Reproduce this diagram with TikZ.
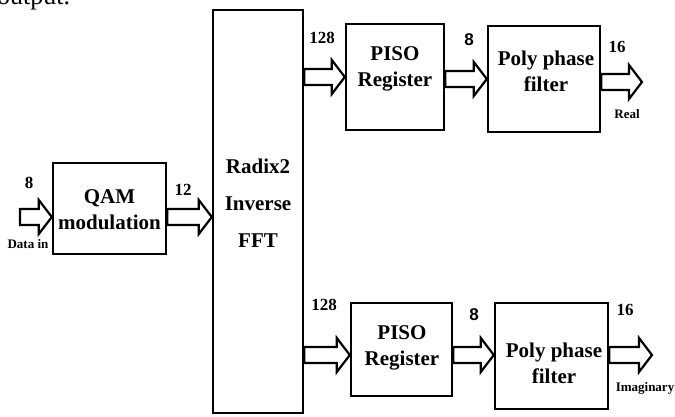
\documentclass[tikz,border=0pt]{standalone}
\usepackage{fontspec}
\setmainfont{Liberation Serif}
\newfontfamily\lblsans{Liberation Sans}
\usetikzlibrary{calc}

\begin{document}
\begin{tikzpicture}[x=1pt,y=-1pt,
    blk/.style={draw,line width=2.4pt,inner sep=0pt},
    blktext/.style={font=\fontsize{21}{26}\selectfont\bfseries,align=center,inner sep=0pt},
    num/.style={font=\fontsize{17}{20}\selectfont\bfseries,inner sep=0pt},
    tag/.style={font=\fontsize{13}{15}\selectfont\bfseries,inner sep=0pt},
    fat/.style={draw,line width=2.2pt,line join=miter,to path={
      let \p1=(\tikztostart),\p2=(\tikztotarget) in
      (\x1,\y1+8pt) -- (\x2-13pt,\y1+8pt) -- (\x2-13pt,\y1+17pt) -- (\x2,\y1)
      -- (\x2-13pt,\y1-17pt) -- (\x2-13pt,\y1-8pt) -- (\x1,\y1-8pt) -- cycle}}]
    \useasboundingbox (0,0) rectangle (675,416);
    \node[anchor=base west,inner sep=0pt,font=\fontsize{26}{30}\selectfont] (cut) at (-3,4.5) {output.};

    \node[blk,minimum width=90,minimum height=403] (fft) at (258,211.5) {};
    \node[blktext,font=\fontsize{21}{37}\selectfont\bfseries] (ffttxt) at (258,203) {Radix2\\Inverse\\FFT};
    \node[blk,minimum width=113,minimum height=91] (qam) at (109.5,208.5) {};
    \node[blktext] (qamtxt) at (109.5,210) {QAM\\modulation};
    \node[blk,minimum width=98,minimum height=106] (pisoA) at (395,77) {};
    \node[blktext] (pisoAtxt) at (395,69) {PISO\\Register};
    \node[blk,minimum width=112,minimum height=106] (polyA) at (544,79) {};
    \node[blktext] (polyAtxt) at (546,71.5) {Poly phase\\filter};
    \node[blk,minimum width=101,minimum height=93] (pisoB) at (401.5,349.5) {};
    \node[blktext] (pisoBtxt) at (402,347.5) {PISO\\Register};
    \node[blk,minimum width=113,minimum height=106] (polyB) at (551.5,356) {};
    \node[blktext] (polyBtxt) at (554,363.5) {Poly phase\\filter};

    \coordinate (din) at (20,217);
    \coordinate (yb) at (0,355);
    \coordinate (real) at (642,82);
    \coordinate (imag) at (652,355);
    \path[fat] (din) to (qam.west |- din);
    \path[fat] (qam.east |- din) to (fft.west |- din);
    \path[fat] (fft.east |- pisoA.west) to (pisoA.west);
    \path[fat] (pisoA.east |- polyA.west) to (polyA.west);
    \path[fat] (polyA.east |- real) to (real);
    \path[fat] (fft.east |- yb) to (pisoB.west |- yb);
    \path[fat] (pisoB.east |- yb) to (polyB.west |- yb);
    \path[fat] (polyB.east |- yb) to (imag);

    \node[num] (nin) at (29,183) {8};
    \node[tag] (datain) at (28,244) {Data in};
    \node[num] (nqam) at (183,190) {12};
    \node[num] (nfftA) at (322,38) {128};
    \node[num,font=\lblsans\fontsize{17}{20}\selectfont\bfseries] (npisoA) at (469,40) {8};
    \node[num] (npolyA) at (617,47) {16};
    \node[tag] (treal) at (627,114) {Real};
    \node[num] (nfftB) at (324,305) {128};
    \node[num,font=\lblsans\fontsize{17}{20}\selectfont\bfseries] (npisoB) at (474,315) {8};
    \node[num] (npolyB) at (625,310) {16};
    \node[tag] (timag) at (645,388) {Imaginary};
\end{tikzpicture}
\end{document}
